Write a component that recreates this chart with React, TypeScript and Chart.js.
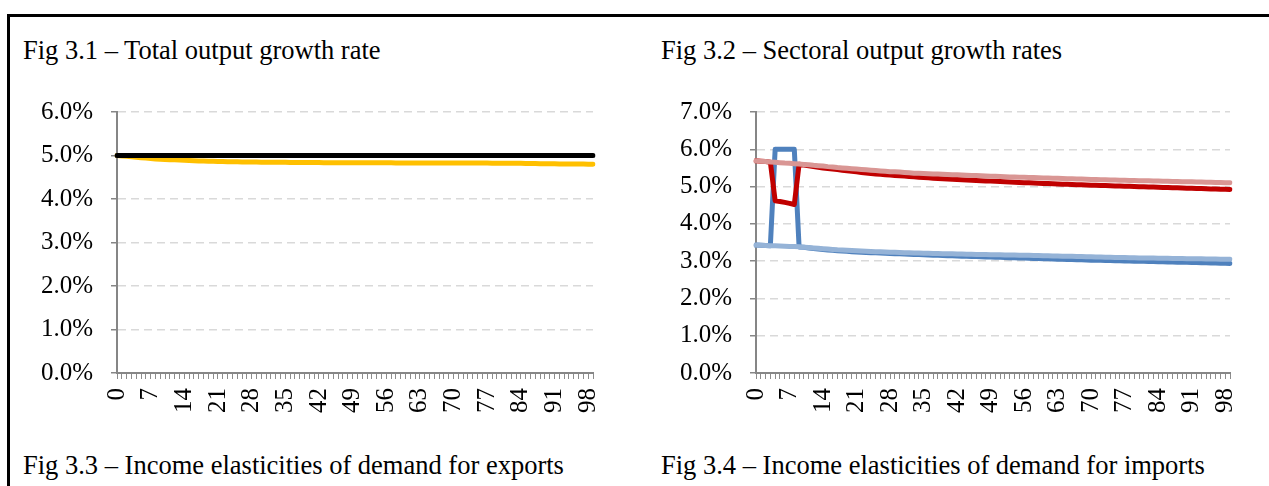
import React, { useEffect, useRef } from "react";
import { Chart, registerables } from "chart.js";

Chart.register(...registerables);

// ---------- data ----------
const periods = [
  0, 1, 2, 3, 4, 5, 6, 7, 8, 9,
  10, 11, 12, 13, 14, 15, 16, 17, 18, 19,
  20, 21, 22, 23, 24, 25, 26, 27, 28, 29,
  30, 31, 32, 33, 34, 35, 36, 37, 38, 39,
  40, 41, 42, 43, 44, 45, 46, 47, 48, 49,
  50, 51, 52, 53, 54, 55, 56, 57, 58, 59,
  60, 61, 62, 63, 64, 65, 66, 67, 68, 69,
  70, 71, 72, 73, 74, 75, 76, 77, 78, 79,
  80, 81, 82, 83, 84, 85, 86, 87, 88, 89,
  90, 91, 92, 93, 94, 95, 96, 97, 98, 99,
];

// Fig 3.1 (percent)
const totalGrowthBaseline = [
  5.0, 5.0, 5.0, 5.0, 5.0, 5.0, 5.0, 5.0, 5.0, 5.0,
  5.0, 5.0, 5.0, 5.0, 5.0, 5.0, 5.0, 5.0, 5.0, 5.0,
  5.0, 5.0, 5.0, 5.0, 5.0, 5.0, 5.0, 5.0, 5.0, 5.0,
  5.0, 5.0, 5.0, 5.0, 5.0, 5.0, 5.0, 5.0, 5.0, 5.0,
  5.0, 5.0, 5.0, 5.0, 5.0, 5.0, 5.0, 5.0, 5.0, 5.0,
  5.0, 5.0, 5.0, 5.0, 5.0, 5.0, 5.0, 5.0, 5.0, 5.0,
  5.0, 5.0, 5.0, 5.0, 5.0, 5.0, 5.0, 5.0, 5.0, 5.0,
  5.0, 5.0, 5.0, 5.0, 5.0, 5.0, 5.0, 5.0, 5.0, 5.0,
  5.0, 5.0, 5.0, 5.0, 5.0, 5.0, 5.0, 5.0, 5.0, 5.0,
  5.0, 5.0, 5.0, 5.0, 5.0, 5.0, 5.0, 5.0, 5.0, 5.0,
];
const totalGrowthSimulated = [
  5.0, 4.99, 4.98, 4.97, 4.96, 4.95, 4.94, 4.93, 4.92, 4.915,
  4.91, 4.905, 4.9, 4.895, 4.89, 4.885, 4.88, 4.875, 4.872, 4.869,
  4.866, 4.863, 4.86, 4.858, 4.856, 4.854, 4.852, 4.85, 4.849, 4.848,
  4.847, 4.846, 4.845, 4.844, 4.843, 4.842, 4.841, 4.84, 4.84, 4.839,
  4.838, 4.838, 4.837, 4.836, 4.836, 4.835, 4.835, 4.834, 4.834, 4.833,
  4.833, 4.833, 4.832, 4.832, 4.832, 4.831, 4.831, 4.831, 4.83, 4.83,
  4.83, 4.83, 4.829, 4.829, 4.829, 4.829, 4.828, 4.828, 4.828, 4.828,
  4.827, 4.827, 4.827, 4.826, 4.826, 4.826, 4.825, 4.825, 4.824, 4.824,
  4.823, 4.823, 4.822, 4.821, 4.82, 4.818, 4.816, 4.814, 4.812, 4.81,
  4.809, 4.808, 4.807, 4.806, 4.805, 4.804, 4.803, 4.802, 4.801, 4.8,
];

// Fig 3.2 (percent)
const sector1Baseline = [
  5.69, 5.68, 5.67, 5.66, 5.65, 5.64, 5.63, 5.625, 5.615, 5.605,
  5.595, 5.585, 5.57, 5.56, 5.55, 5.535, 5.525, 5.51, 5.5, 5.49,
  5.48, 5.47, 5.46, 5.45, 5.44, 5.43, 5.42, 5.41, 5.4, 5.395,
  5.39, 5.38, 5.37, 5.36, 5.355, 5.35, 5.345, 5.34, 5.335, 5.33,
  5.325, 5.32, 5.315, 5.31, 5.305, 5.3, 5.295, 5.29, 5.285, 5.28,
  5.275, 5.27, 5.265, 5.26, 5.256, 5.252, 5.248, 5.244, 5.24, 5.236,
  5.232, 5.228, 5.224, 5.22, 5.216, 5.212, 5.208, 5.204, 5.2, 5.196,
  5.192, 5.188, 5.184, 5.18, 5.177, 5.174, 5.171, 5.168, 5.165, 5.162,
  5.159, 5.156, 5.153, 5.15, 5.147, 5.144, 5.141, 5.138, 5.135, 5.132,
  5.129, 5.126, 5.123, 5.12, 5.117, 5.114, 5.111, 5.108, 5.105, 5.102,
];
const sector1Simulated = [
  5.69, 5.68, 5.67, 5.655, 4.62, 4.6, 4.575, 4.55, 4.52, 5.6,
  5.58, 5.56, 5.54, 5.52, 5.5, 5.485, 5.47, 5.455, 5.44, 5.425,
  5.41, 5.395, 5.38, 5.365, 5.35, 5.34, 5.33, 5.32, 5.31, 5.3,
  5.29, 5.28, 5.27, 5.26, 5.25, 5.242, 5.234, 5.226, 5.218, 5.21,
  5.203, 5.196, 5.189, 5.182, 5.176, 5.17, 5.164, 5.158, 5.152, 5.146,
  5.14, 5.134, 5.128, 5.122, 5.116, 5.11, 5.105, 5.1, 5.095, 5.09,
  5.085, 5.08, 5.075, 5.07, 5.065, 5.06, 5.055, 5.05, 5.046, 5.042,
  5.038, 5.034, 5.03, 5.026, 5.022, 5.018, 5.014, 5.01, 5.006, 5.002,
  4.998, 4.994, 4.99, 4.986, 4.982, 4.978, 4.974, 4.97, 4.966, 4.962,
  4.958, 4.954, 4.95, 4.946, 4.942, 4.938, 4.934, 4.93, 4.926, 4.922,
];
const sector2Baseline = [
  3.43, 3.425, 3.42, 3.415, 3.41, 3.405, 3.4, 3.395, 3.39, 3.385,
  3.375, 3.365, 3.355, 3.345, 3.335, 3.325, 3.315, 3.305, 3.298, 3.291,
  3.284, 3.278, 3.272, 3.266, 3.26, 3.255, 3.25, 3.245, 3.24, 3.236,
  3.232, 3.228, 3.224, 3.22, 3.216, 3.213, 3.21, 3.207, 3.204, 3.201,
  3.198, 3.195, 3.192, 3.189, 3.186, 3.183, 3.18, 3.177, 3.175, 3.173,
  3.171, 3.169, 3.167, 3.165, 3.163, 3.161, 3.158, 3.155, 3.152, 3.149,
  3.146, 3.143, 3.14, 3.137, 3.134, 3.131, 3.128, 3.125, 3.122, 3.119,
  3.116, 3.113, 3.11, 3.107, 3.104, 3.101, 3.098, 3.095, 3.092, 3.089,
  3.087, 3.085, 3.083, 3.081, 3.079, 3.077, 3.075, 3.073, 3.071, 3.069,
  3.067, 3.065, 3.063, 3.061, 3.059, 3.057, 3.055, 3.053, 3.051, 3.05,
];
const sector2Simulated = [
  3.43, 3.425, 3.42, 3.415, 6.0, 6.0, 6.0, 6.0, 6.0, 3.38,
  3.37, 3.355, 3.34, 3.325, 3.31, 3.3, 3.29, 3.28, 3.27, 3.262,
  3.255, 3.248, 3.241, 3.234, 3.228, 3.222, 3.216, 3.21, 3.205, 3.2,
  3.195, 3.19, 3.185, 3.18, 3.175, 3.17, 3.165, 3.16, 3.155, 3.15,
  3.146, 3.142, 3.138, 3.134, 3.13, 3.126, 3.122, 3.118, 3.114, 3.11,
  3.106, 3.102, 3.098, 3.094, 3.09, 3.086, 3.082, 3.078, 3.074, 3.07,
  3.066, 3.062, 3.058, 3.054, 3.05, 3.046, 3.042, 3.038, 3.034, 3.03,
  3.027, 3.024, 3.021, 3.018, 3.015, 3.012, 3.009, 3.006, 3.003, 3.0,
  2.997, 2.994, 2.991, 2.988, 2.985, 2.982, 2.979, 2.976, 2.973, 2.97,
  2.967, 2.964, 2.961, 2.958, 2.955, 2.952, 2.949, 2.946, 2.943, 2.94,
];

const labelEvery = 7;

const SERIF = "'Liberation Serif', 'Times New Roman', serif";

type Series = { data: number[]; color: string };

function LinePanel(props: {
  left: number;
  top: number;
  width: number;
  height: number;
  padTop: number;
  padRight: number;
  yAxisWidth: number;
  xAxisHeight: number;
  yMax: number;
  series: Series[];
}) {
  const ref = useRef<HTMLCanvasElement>(null);
  useEffect(() => {
    const font = { family: SERIF, size: 25 };
    const chart = new Chart(ref.current as HTMLCanvasElement, {
      type: "line",
      data: {
        labels: periods.map(String),
        datasets: props.series.map((s) => ({
          data: s.data,
          borderColor: s.color,
          backgroundColor: s.color,
          borderWidth: 5,
          pointRadius: 0,
          tension: 0,
          fill: false,
          borderCapStyle: "round",
          borderJoinStyle: "round",
        })),
      },
      options: {
        responsive: false,
        maintainAspectRatio: false,
        animation: false,
        devicePixelRatio: 1,
        layout: {
          padding: { left: 0, right: props.padRight, top: props.padTop, bottom: 0 },
        },
        plugins: {
          legend: { display: false },
          tooltip: { enabled: false },
          title: { display: false },
        },
        scales: {
          x: {
            type: "category",
            offset: false,
            ticks: {
              autoSkip: false,
              minRotation: 90,
              maxRotation: 90,
              padding: 9,
              color: "#000",
              font,
              callback: (_v: any, i: number) =>
                i % labelEvery === 0 ? String(periods[i]) : "",
            },
            grid: {
              drawOnChartArea: false,
              drawTicks: true,
              tickLength: 6,
              color: "#8c8c8c",
              lineWidth: 1,
            },
            border: { color: "#868686", width: 2 },
            afterFit: (s: any) => {
              s.height = props.xAxisHeight;
            },
          },
          y: {
            min: 0,
            max: props.yMax,
            ticks: {
              stepSize: 1,
              padding: 18,
              color: "#000",
              font,
              callback: (v: any) => Number(v).toFixed(1) + "%",
            },
            grid: {
              color: "#D9D9D9",
              lineWidth: 1.5,
              tickLength: 6,
              tickColor: "#868686",
              tickWidth: 1.5,
              tickBorderDash: [],
            },
            border: { color: "#868686", width: 2, dash: [8, 5] },
            afterFit: (s: any) => {
              s.width = props.yAxisWidth;
            },
          },
        },
      } as any,
    });
    return () => chart.destroy();
  }, []);
  return (
    <canvas
      ref={ref}
      width={props.width}
      height={props.height}
      style={{
        position: "absolute",
        left: props.left,
        top: props.top,
        width: props.width,
        height: props.height,
      }}
    />
  );
}

const titleStyle = (left: number, top: number): React.CSSProperties => ({
  position: "absolute",
  left,
  top,
  fontFamily: SERIF,
  fontSize: 26.5,
  lineHeight: 1,
  color: "#000",
  whiteSpace: "nowrap",
});

export default function App() {
  return (
    <div
      style={{
        position: "absolute",
        left: 0,
        top: 0,
        width: 1269,
        height: 486,
        overflow: "hidden",
        background: "#fff",
      }}
    >
      <div
        style={{
          position: "absolute",
          left: 7,
          top: 14,
          width: 1400,
          height: 600,
          borderTop: "3px solid #000",
          borderLeft: "3px solid #000",
        }}
      />
      <div style={titleStyle(23, 37)}>Fig 3.1 – Total output growth rate</div>
      <div style={titleStyle(661, 37)}>Fig 3.2 – Sectoral output growth rates</div>
      <LinePanel
        left={20}
        top={79}
        width={612}
        height={351}
        padTop={20}
        padRight={23}
        yAxisWidth={97}
        xAxisHeight={57}
        yMax={6}
        series={[
          { data: totalGrowthBaseline, color: "#000000" },
          { data: totalGrowthSimulated, color: "#FFC000" },
        ]}
      />
      <LinePanel
        left={659}
        top={79}
        width={610}
        height={351}
        padTop={19}
        padRight={23}
        yAxisWidth={97}
        xAxisHeight={57}
        yMax={7}
        series={[
          { data: sector1Baseline, color: "#D99694" },
          { data: sector2Baseline, color: "#95B3D7" },
          { data: sector1Simulated, color: "#C00000" },
          { data: sector2Simulated, color: "#4F81BD" },
        ]}
      />
      <div style={titleStyle(23, 452)}>Fig 3.3 – Income elasticities of demand for exports</div>
      <div style={titleStyle(661, 452)}>Fig 3.4 – Income elasticities of demand for imports</div>
    </div>
  );
}
